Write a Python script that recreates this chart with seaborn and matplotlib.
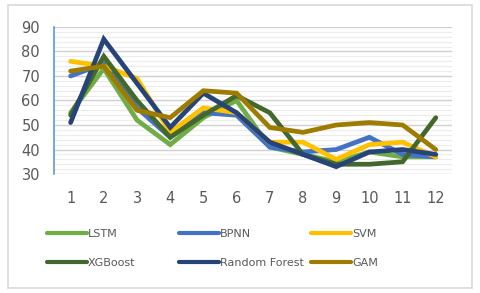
import pandas as pd
import matplotlib
matplotlib.use('Agg')
import matplotlib.pyplot as plt
import seaborn as sns
from matplotlib.patches import Rectangle
from matplotlib.ticker import MultipleLocator

# data
months   = list(range(1, 13))
lstm     = [55, 73, 52, 42, 53, 60, 41, 38, 35, 39, 37, 37]
bpnn     = [70, 75, 57, 45, 55, 54, 41, 39, 40, 45, 38, 37]
svm      = [76, 74, 69, 47, 57, 55, 43, 43, 36, 42, 43, 37]
xgboost  = [54, 78, 60, 45, 54, 62, 55, 38, 34, 34, 35, 53]
rforest  = [51, 85, 67, 49, 63, 55, 43, 38, 33, 39, 40, 38]
gam      = [72, 74, 56, 53, 64, 63, 49, 47, 50, 51, 50, 40]

models = ['LSTM', 'BPNN', 'SVM', 'XGBoost', 'Random Forest', 'GAM']
series = [lstm, bpnn, svm, xgboost, rforest, gam]
colors = ['#70AD47', '#4472C4', '#FFC000', '#43682B', '#264478', '#9E7C00']

df = pd.DataFrame({
    'x':     months * len(models),
    'value': sum(series, []),
    'model': [m for m in models for _ in months],
})

sns.set_style('white')
plt.rcParams['font.family'] = ['DejaVu Sans']

fig = plt.figure(figsize=(4.8, 2.93), dpi=100)
ax = fig.add_axes([0.1125, 0.406, 0.83, 0.502])

sns.lineplot(data=df, x='x', y='value', hue='model', palette=colors,
             linewidth=3.4, ax=ax, legend=False, solid_capstyle='round',
             solid_joinstyle='miter')

ax.set_xlim(0.5, 12.5)
ax.set_ylim(30, 90)
ax.set_xticks(months)
ax.yaxis.set_major_locator(MultipleLocator(10))
ax.yaxis.set_minor_locator(MultipleLocator(2))
ax.grid(which='major', axis='y', color='#d0d0d0', linewidth=1.0)
ax.grid(which='minor', axis='y', color='#ececec', linewidth=0.8)
ax.set_axisbelow(True)
ax.set_xlabel('')
ax.set_ylabel('')

for s in ['top', 'right', 'bottom']:
    ax.spines[s].set_visible(False)
ax.spines['left'].set_color('#5B9BD5')
ax.spines['left'].set_linewidth(1.2)
ax.tick_params(axis='y', which='both', direction='in', color='#5B9BD5',
               labelcolor='#595959', labelsize=10.5, pad=10)
ax.tick_params(axis='y', which='major', length=4)
ax.tick_params(axis='y', which='minor', length=4)
ax.tick_params(axis='x', length=0, labelcolor='#595959', labelsize=10.5, pad=12)

# legend: equal-width columns, each its own legend
handles = [plt.Line2D([], [], color=c, linewidth=3.0, solid_capstyle='round') for c in colors]
col_x = [0.098, 0.373, 0.648]
for j in range(3):
    idx = [j, j + 3]
    leg = fig.legend([handles[i] for i in idx], [models[i] for i in idx],
                     loc='lower left', bbox_to_anchor=(col_x[j], 0.084),
                     frameon=False, fontsize=8, labelcolor='#595959',
                     handlelength=3.6, handletextpad=0.1, labelspacing=1.75,
                     borderpad=0, borderaxespad=0)

fig.add_artist(Rectangle((0.016, 0.018), 0.968, 0.965, transform=fig.transFigure,
                         fill=False, edgecolor='#d9d9d9', linewidth=1.2))

fig.savefig('out.png', dpi=100)
